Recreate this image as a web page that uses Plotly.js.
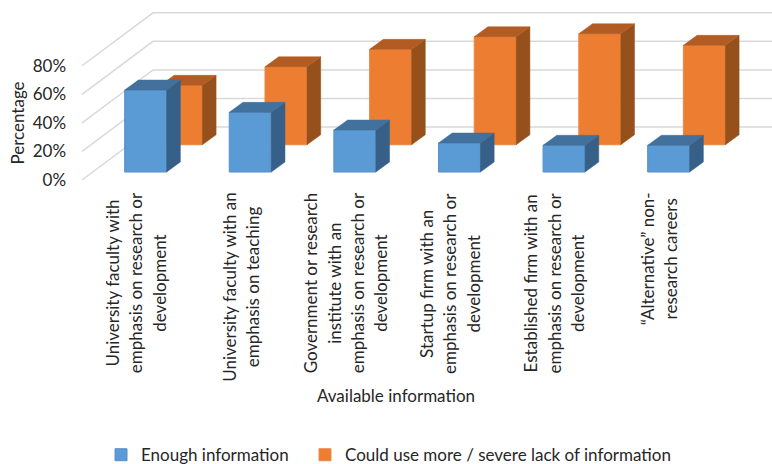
<!DOCTYPE html>
<html><head><meta charset="utf-8">
<script src="https://cdn.plot.ly/plotly-3.0.1.min.js"></script>
<style>html,body{margin:0;padding:0;background:#fff}</style></head>
<body><div id="chart" style="width:772px;height:464px"></div>
<script>
const categories = [
 "University faculty with<br>emphasis on research or<br>development",
 "University faculty with an<br>emphasis on teaching",
 "Government or research<br>institute with an<br>emphasis on research or<br>development",
 "Startup firm with an<br>emphasis on research or<br>development",
 "Established firm with an<br>emphasis on research or<br>development",
 "“Alternative” non-<br>research careers"];
const enough = [57.4, 41.8, 29.4, 20.3, 18.7, 18.7];
const lack = [41.6, 54.6, 66.8, 75.6, 77.7, 69.6];
const yTicks = [0, 20, 40, 60, 80];
const seriesNames = ["Enough information", "Could use more / severe lack of information"];

const FONT = "Lato, 'Open Sans', sans-serif", TXT = "#262626";
const W = 0.4016;                 // bar width in category units
const DX = 0.131, DY = 7;         // bar depth (x units, % units)
const BACKX = 0.679, BACKY = 37.1;// wall depth
const XR = [-1.0994, 6.0899], YR = [-46.2, 126.05];
const XSTART = -0.5067;

function faces(vals, shiftX, base) {
  const side = {x: [], y: []}, top = {x: [], y: []};
  vals.forEach((v, i) => {
    const l = i + shiftX - W/2, r = i + shiftX + W/2, t = base + v;
    side.x.push(r, r+DX, r+DX, r, r, null); side.y.push(base, base+DY, t+DY, t, base, null);
    top.x.push(l, r, r+DX, l+DX, l, null); top.y.push(t, t, t+DY, t+DY, t, null);
  });
  return {side, top};
}
function series(name, vals, shiftX, base, cols, xa, ya, lg) {
  const f = faces(vals, shiftX, base);
  const poly = (p, c) => ({type: "scatter", mode: "lines", x: p.x, y: p.y, fill: "toself", fillcolor: c,
    line: {width: 0.5, color: c}, hoverinfo: "skip", showlegend: false, xaxis: xa, yaxis: ya});
  return [
    {type: "bar", name, legend: lg, x: vals.map((_, i) => i + shiftX), y: vals, base: vals.map(() => base), width: W,
     marker: {color: cols[0], line: {color: cols[3], width: 1}}, xaxis: xa, yaxis: ya},
    poly(f.side, cols[1]), poly(f.top, cols[2])
  ];
}
const data = [
  ...series(seriesNames[0], enough, 0.102, 5.6, ["#5B9BD5", "#376089", "#41719C", "#5A8FC8"], "x2", "y2", "legend"),
  ...series(seriesNames[1], lack, 0.4436, 24.7, ["#ED7D31", "#95501C", "#B25B22", "#E88A48"], "x", "y", "legend2")
];
const shapes = yTicks.map(v => ({type: "path", xref: "x", yref: "y", layer: "below",
  path: `M${XSTART},${v}L${XSTART+BACKX},${v+BACKY}L${XR[1]},${v+BACKY}`,
  line: {color: "#D9D9D9", width: 1.5}}));
const annotations = categories.map((c, i) => ({
  text: c.split("<br>").map(s => `<span style="font-size:17px">${s}</span>`).join("<br>"),
  x: i + 0.01, y: -7.4, xref: "x", yref: "y", xanchor: "center", yanchor: "top",
  textangle: -90, align: "center", showarrow: false, font: {family: FONT, size: 18, color: TXT}}));
const hidden = {visible: false, fixedrange: true};
const legendBase = {orientation: "h", xref: "container", yref: "container", xanchor: "left", yanchor: "middle",
  y: 0.019, font: {size: 17, color: TXT}, indentation: -7, bgcolor: "rgba(0,0,0,0)"};
const layout = {
  width: 772, height: 464, margin: {l: 20, r: 0, t: 0, b: 218}, paper_bgcolor: "#fff", plot_bgcolor: "#fff",
  font: {family: FONT, size: 17, color: TXT}, barmode: "overlay", shapes, annotations,
  xaxis: {range: XR, showgrid: false, zeroline: false, showline: false, ticks: "", showticklabels: false,
    title: {text: "Available information", standoff: 144, font: {size: 17, color: TXT}}},
  yaxis: {range: YR, anchor: "free", position: 0.0612, tickvals: yTicks, ticktext: yTicks.map(v => v + "%"),
    showgrid: false, zeroline: false, showline: false, ticks: "",
    title: {text: "Percentage", standoff: 2, font: {size: 17, color: TXT}}, tickfont: {size: 17, color: TXT}},
  xaxis2: {...hidden, range: XR, overlaying: "x"},
  yaxis2: {...hidden, range: YR, overlaying: "y"},
  legend: {...legendBase, x: 108/772},
  legend2: {...legendBase, x: 312/772}
};
Plotly.newPlot("chart", data, layout, {displayModeBar: false, staticPlot: true});
</script></body></html>
